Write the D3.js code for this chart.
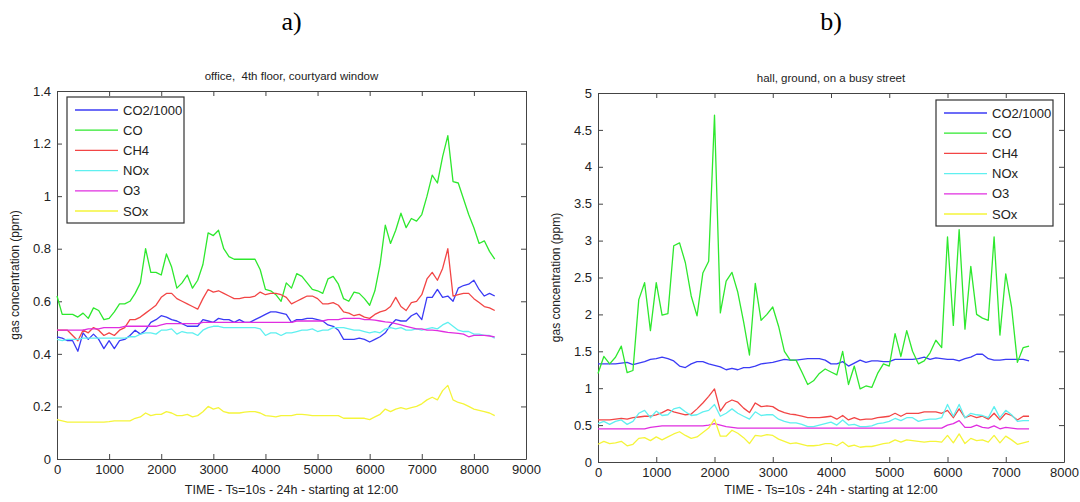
<!DOCTYPE html>
<html lang="en">
  <head>
    <meta charset="utf-8">
    <title>gas concentration</title>
    <script type="text/javascript" src="https://d3js.org/d3.v7.min.js"></script>
    <style>
      body { margin: 0; background: #fff; }
      .tick text, .lgd text { font-family: "Liberation Sans", Arial, sans-serif; fill: #222; }
      .ttl, .xlab, .ylab { font-family: "Liberation Sans", Arial, sans-serif; fill: #222; white-space: pre; }
      .panel { font-family: "Liberation Serif", "Times New Roman", serif; fill: #000; }
      .domain, .tick line { stroke: #444; }
    </style>
  </head>
  <body>
    <svg id="chart"></svg>

    <script type="text/javascript">

    // DATA

    const seriesNames = ['CO2/1000', 'CO', 'CH4', 'NOx', 'O3', 'SOx'];
    const seriesColors = ['#3b3bf5', '#2ee82e', '#f24545', '#5ff0f0', '#e02ee0', '#f5f53a'];

    // a) office, sampled every 100 steps from 0 to 8400
    const officeStep = 100;
    const officeCO2 = [.465,.46,.45,.45,.41,.48,.455,.475,.455,.42,
      .45,.42,.45,.455,.47,.49,.475,.49,.52,.53,
      .545,.54,.53,.525,.515,.505,.505,.505,.53,.525,
      .52,.535,.53,.53,.52,.53,.52,.52,.53,.54,
      .55,.56,.56,.555,.55,.52,.53,.53,.535,.535,
      .53,.525,.51,.505,.49,.455,.455,.455,.46,.455,
      .445,.455,.465,.48,.51,.53,.525,.525,.545,.555,
      .53,.615,.615,.645,.615,.62,.60,.65,.66,.665,
      .68,.645,.62,.63,.62];
    const officeCO = [.62,.55,.55,.55,.54,.555,.535,.575,.565,.53,
      .535,.56,.59,.59,.60,.63,.67,.80,.71,.71,
      .70,.78,.73,.65,.67,.70,.65,.68,.74,.86,
      .85,.87,.80,.77,.76,.76,.76,.76,.76,.72,
      .645,.64,.625,.60,.67,.65,.705,.695,.67,.645,
      .64,.63,.685,.695,.665,.61,.60,.635,.63,.61,
      .585,.64,.74,.89,.82,.87,.935,.88,.915,.905,
      .93,1.0,1.08,1.05,1.15,1.23,1.055,1.05,.99,.93,
      .88,.82,.83,.79,.76];
    const officeCH4 = [.49,.49,.49,.47,.45,.49,.48,.50,.49,.47,
      .48,.47,.49,.50,.53,.53,.54,.555,.57,.585,
      .615,.63,.63,.61,.60,.59,.58,.57,.61,.645,
      .635,.64,.63,.62,.61,.61,.615,.615,.62,.635,
      .625,.63,.63,.625,.615,.59,.60,.61,.62,.62,
      .61,.59,.59,.595,.585,.56,.555,.545,.55,.54,
      .535,.55,.56,.565,.58,.615,.58,.565,.595,.60,
      .625,.685,.71,.68,.725,.80,.62,.625,.63,.63,
      .61,.595,.58,.575,.565];
    const officeNOx = [.455,.45,.455,.455,.455,.46,.46,.46,.46,.46,
      .46,.46,.46,.46,.465,.465,.475,.48,.48,.475,
      .49,.49,.495,.475,.485,.48,.48,.47,.49,.50,
      .505,.505,.50,.50,.50,.50,.50,.50,.50,.495,
      .47,.48,.48,.47,.48,.48,.485,.49,.49,.495,
      .485,.49,.49,.50,.50,.50,.495,.49,.49,.485,
      .48,.485,.48,.495,.50,.495,.50,.49,.49,.495,
      .49,.495,.50,.495,.51,.52,.505,.49,.485,.485,
      .475,.475,.47,.47,.46];
    const officeO3 = [.49,.49,.49,.49,.49,.49,.495,.495,.495,.50,
      .50,.50,.50,.505,.505,.505,.505,.505,.505,.505,
      .51,.515,.515,.515,.515,.515,.515,.515,.52,.52,
      .52,.52,.52,.52,.52,.52,.52,.52,.52,.52,
      .52,.52,.52,.52,.52,.52,.525,.525,.525,.525,
      .525,.525,.53,.53,.53,.535,.535,.535,.535,.53,
      .53,.528,.525,.522,.52,.515,.51,.505,.50,.495,
      .495,.49,.49,.488,.485,.482,.48,.478,.475,.465,
      .47,.47,.47,.468,.465];
    const officeSOx = [.15,.145,.14,.14,.14,.14,.14,.14,.14,.14,
      .142,.145,.145,.145,.145,.155,.16,.175,.165,.17,
      .17,.18,.175,.165,.165,.17,.16,.165,.18,.20,
      .19,.195,.18,.175,.175,.175,.178,.18,.18,.175,
      .165,.163,.16,.165,.165,.165,.17,.17,.168,.165,
      .165,.165,.165,.165,.165,.155,.155,.155,.155,.155,
      .15,.16,.17,.19,.18,.19,.195,.19,.195,.20,
      .21,.225,.235,.225,.26,.28,.225,.215,.21,.20,
      .19,.185,.18,.175,.165];

    // b) hall, sampled every 100 steps from 0 to 7400
    const hallStep = 100;
    const hallCO2 = [1.33,1.33,1.33,1.33,1.34,1.35,1.32,1.34,1.36,1.39,
      1.40,1.42,1.40,1.37,1.30,1.28,1.33,1.36,1.36,1.33,
      1.31,1.29,1.25,1.27,1.25,1.28,1.28,1.30,1.33,1.34,
      1.35,1.37,1.39,1.38,1.38,1.39,1.40,1.40,1.40,1.38,
      1.33,1.33,1.36,1.30,1.34,1.38,1.35,1.37,1.37,1.36,
      1.36,1.39,1.39,1.39,1.39,1.40,1.42,1.39,1.41,1.40,
      1.39,1.39,1.37,1.40,1.42,1.46,1.46,1.40,1.38,1.38,
      1.39,1.39,1.39,1.39,1.37];
    const hallCO = [1.2,1.43,1.33,1.42,1.57,1.21,1.24,2.2,2.43,1.78,
      2.43,1.99,2.01,2.93,2.97,2.7,2.25,1.98,2.56,2.72,
      4.7,2.02,2.45,2.57,2.3,1.9,1.45,2.42,1.92,2.0,
      2.1,1.84,1.5,1.38,1.38,1.22,1.05,1.1,1.2,1.26,
      1.22,1.18,1.5,1.05,1.3,0.99,1.03,1.01,1.2,1.33,
      1.3,1.74,1.43,1.78,1.5,1.33,1.37,1.48,1.65,1.55,
      3.05,1.85,3.15,1.8,2.65,2.0,1.95,1.92,3.05,1.72,
      2.55,2.1,1.35,1.55,1.57];
    const hallCH4 = [.57,.57,.57,.58,.59,.58,.60,.61,.62,.62,
      .64,.67,.71,.68,.66,.64,.65,.72,.80,.89,
      .99,.69,.80,.84,.81,.73,.67,.80,.75,.76,
      .75,.70,.67,.65,.64,.62,.60,.60,.60,.61,
      .62,.58,.63,.57,.60,.57,.58,.58,.60,.61,
      .62,.66,.62,.66,.66,.66,.68,.68,.68,.66,
      .70,.60,.72,.60,.63,.60,.62,.58,.66,.57,
      .66,.63,.57,.62,.62];
    const hallNOx = [.52,.55,.51,.55,.57,.51,.55,.66,.70,.60,
      .69,.63,.64,.72,.74,.68,.63,.64,.68,.70,
      .78,.62,.66,.72,.66,.62,.58,.68,.63,.64,
      .64,.58,.55,.53,.53,.51,.48,.48,.50,.52,
      .54,.50,.57,.50,.51,.48,.48,.49,.52,.53,
      .55,.59,.56,.60,.60,.55,.57,.58,.58,.60,
      .78,.62,.78,.60,.66,.64,.63,.60,.75,.60,
      .70,.64,.55,.56,.56];
    const hallO3 = [.45,.45,.45,.45,.45,.45,.45,.45,.45,.47,
      .48,.49,.49,.49,.49,.49,.49,.49,.49,.50,
      .52,.50,.48,.47,.46,.46,.46,.46,.46,.46,
      .46,.46,.46,.46,.46,.46,.46,.46,.46,.46,
      .46,.46,.46,.46,.46,.46,.46,.46,.46,.46,
      .46,.46,.46,.46,.46,.46,.46,.46,.46,.46,
      .50,.52,.56,.47,.47,.50,.47,.46,.49,.45,
      .47,.46,.45,.45,.45];
    const hallSOx = [.24,.28,.25,.26,.28,.22,.24,.32,.33,.29,
      .34,.30,.34,.38,.41,.36,.32,.34,.40,.46,
      .58,.35,.35,.43,.39,.33,.25,.36,.35,.37,
      .36,.31,.28,.25,.26,.24,.22,.22,.23,.25,
      .25,.22,.27,.21,.23,.20,.21,.21,.23,.25,
      .26,.30,.27,.30,.29,.28,.27,.28,.28,.27,
      .36,.26,.38,.25,.32,.29,.30,.27,.36,.26,
      .35,.30,.24,.26,.28];

    // tick values
    const officeXTicks = [0,1000,2000,3000,4000,5000,6000,7000,8000,9000];
    const officeYTicks = [0,0.2,0.4,0.6,0.8,1,1.2,1.4];
    const hallXTicks = [0,1000,2000,3000,4000,5000,6000,7000,8000];
    const hallYTicks = [0,0.5,1,1.5,2,2.5,3,3.5,4,4.5,5];


    // DIMENSIONS

    const width = 1080;
    const height = 502;

    const svg = d3.select('#chart')
      .attr('width', width)
      .attr('height', height);

    const xLabel = 'TIME - Ts=10s - 24h - starting at 12:00';
    const yLabel = 'gas concentration (ppm)';


    // function to draw one panel
    function drawPanel(cfg) {
      const x = d3.scaleLinear().domain(cfg.xDomain).range([cfg.left, cfg.right]);
      const y = d3.scaleLinear().domain(cfg.yDomain).range([cfg.bottom, cfg.top]);
      const g = svg.append('g');

      // white plot area
      g.append('rect')
        .attr('x', cfg.left).attr('y', cfg.top)
        .attr('width', cfg.right - cfg.left)
        .attr('height', cfg.bottom - cfg.top)
        .attr('fill', '#fff');

      // axes, ticks point inward like matlab
      g.append('g')
        .attr('transform', `translate(0,${cfg.bottom})`)
        .call(d3.axisBottom(x).tickValues(cfg.xTicks).tickSize(-5).tickSizeOuter(0).tickPadding(6).tickFormat(d3.format('d')))
        .call(a => a.selectAll('text').attr('font-size', 13));
      g.append('g')
        .attr('transform', `translate(0,${cfg.top})`)
        .call(d3.axisTop(x).tickValues(cfg.xTicks).tickSize(-5).tickSizeOuter(0).tickFormat(''));
      g.append('g')
        .attr('transform', `translate(${cfg.left},0)`)
        .call(d3.axisLeft(y).tickValues(cfg.yTicks).tickSize(-5).tickSizeOuter(0).tickPadding(6).tickFormat(d3.format('')))
        .call(a => a.selectAll('text').attr('font-size', 13));
      g.append('g')
        .attr('transform', `translate(${cfg.right},0)`)
        .call(d3.axisRight(y).tickValues(cfg.yTicks).tickSize(-5).tickSizeOuter(0).tickFormat(''));

      // lines
      const line = d3.line()
        .x((d, i) => x(i * cfg.step))
        .y(d => y(d));

      g.append('g')
        .selectAll('path')
        .data(cfg.series)
        .join('path')
        .attr('d', d => line(d))
        .attr('fill', 'none')
        .attr('stroke', (d, i) => seriesColors[i])
        .attr('stroke-width', 1.3)
        .attr('stroke-linejoin', 'round');

      // legend
      const lg = g.append('g').attr('class', 'lgd');
      lg.append('rect')
        .attr('x', cfg.legend.x).attr('y', cfg.legend.y)
        .attr('width', cfg.legend.w).attr('height', cfg.legend.h)
        .attr('fill', '#fff')
        .attr('stroke', '#333')
        .attr('stroke-width', 1.2);
      const rows = lg.selectAll('g.row')
        .data(seriesNames)
        .join('g')
        .attr('class', 'row')
        .attr('transform', (d, i) => `translate(${cfg.legend.x},${cfg.legend.y + 13 + i * 20.2})`);
      rows.append('line')
        .attr('x1', 8).attr('x2', 51)
        .attr('y1', 0).attr('y2', 0)
        .attr('stroke', (d, i) => seriesColors[i])
        .attr('stroke-width', 1.3);
      rows.append('text')
        .text(d => d)
        .attr('x', 56)
        .attr('y', 0)
        .attr('dy', '0.35em')
        .attr('font-size', 13);

      // titles
      const cx = (cfg.left + cfg.right) / 2;
      svg.append('text')
        .text(cfg.panel)
        .attr('class', 'panel')
        .attr('x', cx).attr('y', 30)
        .attr('text-anchor', 'middle')
        .attr('font-size', 26);
      svg.append('text')
        .text(cfg.title)
        .attr('class', 'ttl')
        .attr('x', cx).attr('y', cfg.top - 11)
        .attr('text-anchor', 'middle')
        .attr('font-size', 11.5);
      svg.append('text')
        .text(xLabel)
        .attr('class', 'xlab')
        .attr('x', cx).attr('y', 494)
        .attr('text-anchor', 'middle')
        .attr('font-size', 12.5);
      svg.append('text')
        .text(yLabel)
        .attr('class', 'ylab')
        .attr('transform', `translate(${cfg.left - 38},${(cfg.top + cfg.bottom) / 2}) rotate(-90)`)
        .attr('text-anchor', 'middle')
        .attr('font-size', 12);
    }

    drawPanel({
      panel: 'a)',
      title: 'office,  4th floor, courtyard window',
      left: 57, right: 526, top: 91, bottom: 459,
      xDomain: [0, 9000], yDomain: [0, 1.4],
      xTicks: officeXTicks, yTicks: officeYTicks,
      step: officeStep,
      series: [officeCO2, officeCO, officeCH4, officeNOx, officeO3, officeSOx],
      legend: {x: 67, y: 97, w: 117, h: 126}
    });

    drawPanel({
      panel: 'b)',
      title: 'hall, ground, on a busy street',
      left: 598, right: 1064, top: 93, bottom: 462,
      xDomain: [0, 8000], yDomain: [0, 5],
      xTicks: hallXTicks, yTicks: hallYTicks,
      step: hallStep,
      series: [hallCO2, hallCO, hallCH4, hallNOx, hallO3, hallSOx],
      legend: {x: 936, y: 100, w: 117, h: 126}
    });

    </script>
  </body>
</html>
